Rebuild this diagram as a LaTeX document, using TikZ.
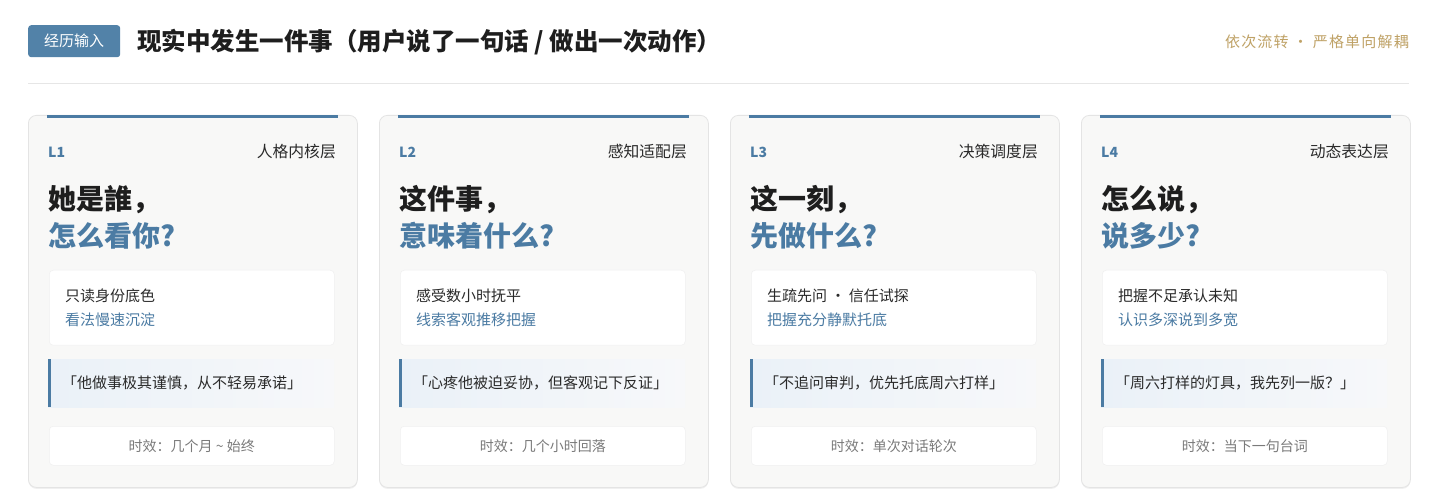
\documentclass[tikz,border=0pt]{standalone}
\usepackage{fontspec}
\setmainfont{Noto Sans CJK SC}
\usetikzlibrary{shadows}
\definecolor{steel}{HTML}{4B7BA3}
\definecolor{badge}{HTML}{5282A8}
\definecolor{cardbg}{HTML}{F8F8F7}
\definecolor{cardline}{HTML}{E4E4E4}
\definecolor{ink}{HTML}{1E1E1E}
\definecolor{txt}{HTML}{2A2A2A}
\definecolor{muted}{HTML}{7A7A7A}
\definecolor{gold}{HTML}{BFA266}
\definecolor{qleft}{HTML}{EAF1F8}
\definecolor{qright}{HTML}{F7F8FA}
\definecolor{rule}{HTML}{E6E6E6}
\newfontfamily\spacedfont[LetterSpace=8]{Noto Sans CJK SC}
\newcommand\fs[1]{\fontsize{#1}{#1}\selectfont}
\tikzset{
  card/.style={draw=cardline, fill=cardbg, rounded corners=8pt, line width=0.8pt,
    minimum width=329pt, minimum height=372pt, inner sep=0pt, anchor=north west,
    drop shadow={shadow xshift=0pt, shadow yshift=-1.5pt, opacity=0.06, fill=black}},
  topbar/.style={fill=steel, minimum width=291pt, minimum height=3pt, inner sep=0pt, anchor=north},
  lvl/.style={font=\bfseries\fs{14}, text=steel, inner sep=0pt, anchor=west},
  lname/.style={font=\fs{15.8}, text=txt, inner sep=0pt, anchor=east},
  headA/.style={font=\bfseries\fs{28}, text=ink, inner sep=0pt, anchor=west},
  headB/.style={font=\bfseries\fs{28}, text=steel, inner sep=0pt, anchor=west},
  whitebox/.style={fill=white, draw=white!94!black, line width=0.5pt, rounded corners=4pt,
    minimum width=285pt, inner sep=0pt, anchor=north west},
  lineA/.style={font=\fs{15}, text=txt, inner sep=0pt, anchor=west},
  lineB/.style={font=\fs{15}, text=steel, inner sep=0pt, anchor=west},
  quotebox/.style={left color=qleft, right color=qright, draw=none, minimum width=286pt,
    minimum height=48pt, inner sep=0pt, anchor=north west},
  quotebar/.style={fill=steel, minimum width=3pt, minimum height=48pt, inner sep=0pt, anchor=north west},
  quotetxt/.style={font=\fs{15}, text=txt, inner sep=0pt, anchor=west},
  timetxt/.style={font=\fs{14}, text=muted, inner sep=0pt},
}
% #1 index, #2 left x, #3 layer name, #4 head line 1, #5 head line 2,
% #6 box line 1, #7 box line 2, #8 quote, #9 time
\newcommand\mkcard[9]{%
  \node[card] (card#1) at (#2,115) {};
  \node[topbar] (bar#1) at (card#1.north) {};
  \node[lvl] (lv#1) at (#2+20,152) {L#1};
  \node[lname] (ln#1) at (#2+308,152) {#3};
  \node[headA] (ha#1) at (#2+20,200) {#4};
  \node[headB] (hb#1) at (#2+20,236) {#5};
  \node[whitebox, minimum height=75pt] (wb#1) at (#2+21,270) {};
  \node[lineA] (la#1) at (#2+37,296) {#6};
  \node[lineB] (lb#1) at (#2+37,320) {#7};
  \node[quotebox] (qb#1) at (#2+20,359) {};
  \node[quotebar] (qbar#1) at (#2+20,359) {};
  \node[quotetxt] (qt#1) at (#2+34,383) {#8};
  \node[whitebox, minimum height=39pt] (tb#1) at (#2+21,426) {};
  \node[timetxt] (tt#1) at (tb#1.center) {#9};
}
\begin{document}
\begin{tikzpicture}[x=1pt,y=-1pt]
\fill[white] (0,0) rectangle (1437,502);
\useasboundingbox (0,0) rectangle (1437,502);
% header
\node[fill=badge, rounded corners=3pt, minimum width=92pt, minimum height=32pt, inner sep=0pt,
  anchor=north west, text=white, font=\fs{15}] (badge) at (28,25) {经历输入};
\node[anchor=west, inner sep=0pt, font=\bfseries\fs{24.5}, text=ink] (title) at (137,42)
  {现实中发生一件事（用户说了一句话 / 做出一次动作）};
\node[anchor=east, inner sep=0pt, font=\spacedfont\fs{15}, text=gold] (motto) at (1409,42)
  {依次流转 · 严格单向解耦};
\coordinate (ruleL) at (28,84);
\coordinate (ruleR) at (1409,84);
\draw[rule, line width=1pt] (ruleL) -- (ruleR);
% cards
\mkcard{1}{28}{人格内核层}{她是誰，}{怎么看你?}{只读身份底色}{看法慢速沉淀}{「他做事极其谨慎，从不轻易承诺」}{时效：几个月 \textasciitilde{} 始终}
\mkcard{2}{379}{感知适配层}{这件事，}{意味着什么?}{感受数小时抚平}{线索客观推移把握}{「心疼他被迫妥协，但客观记下反证」}{时效：几个小时回落}
\mkcard{3}{730}{决策调度层}{这一刻，}{先做什么?}{生疏先问 · 信任试探}{把握充分静默托底}{「不追问审判，优先托底周六打样」}{时效：单次对话轮次}
\mkcard{4}{1081}{动态表达层}{怎么说，}{说多少?}{把握不足承认未知}{认识多深说到多宽}{「周六打样的灯具，我先列一版？」}{时效：当下一句台词}
\end{tikzpicture}
\end{document}
